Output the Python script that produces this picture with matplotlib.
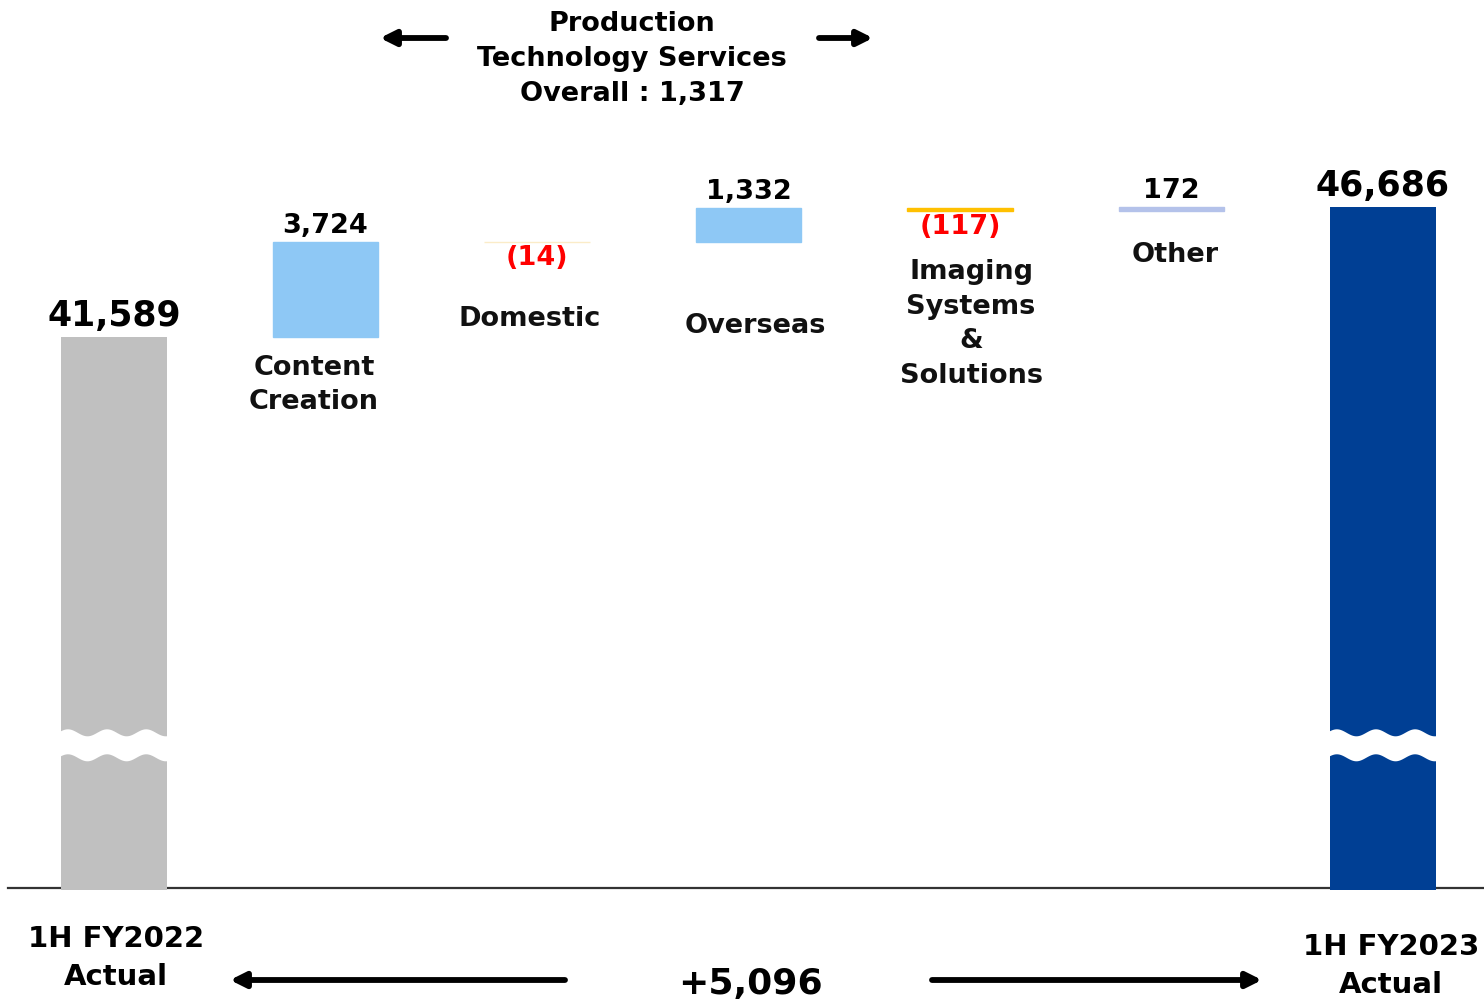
import numpy as np
import matplotlib
matplotlib.use("Agg")
import matplotlib.pyplot as plt

# ---- data ----
categories = ["1H FY2022\nActual", "Content\nCreation", "Domestic", "Overseas",
              "Imaging\nSystems\n&\nSolutions", "Other", "1H FY2023\nActual"]
start_value = 41589
end_value = 46686
deltas = [3724, -14, 1332, -117, 172]
delta_labels = ["3,724", "(14)", "1,332", "(117)", "172"]
total_labels = ["41,589", "46,686"]
total_change_label = "+5,096"
pts_label = "Production\nTechnology Services\nOverall : 1,317"

# ---- style ----
W, H = 1484, 1002
FLOOR = 20000            # truncated axis floor (broken axis)
total_colors = ["#C0C0C0", "#003F94"]
delta_colors = ["#8EC8F5", "#FBECC8", "#8EC8F5", "#FFC000", "#B4C2EA"]
plt.rcParams["font.family"] = ["DejaVu Sans"]
plt.rcParams["font.weight"] = "bold"

fig = plt.figure(figsize=(W / 100, H / 100), dpi=100)
ax = fig.add_axes([0, 0, 1, 1])
ax.set_xlim(-0.539, 6.478)
ax.set_ylim(15516, 54802)
ax.axis("off")

def fig_text(px, py, s, **kw):
    fig.text(px / W, 1 - py / H, s, ha="center", va="center", **kw)

# baseline
ax.axhline(FLOOR, xmin=8 / W, xmax=1, color="#333333", lw=1.6, zorder=1)

# totals
xs_tot = [0, 6]
vals_tot = [start_value, end_value]
ax.bar(xs_tot, [v - FLOOR + 100 for v in vals_tot], bottom=FLOOR - 100, width=0.5,
       color=total_colors, zorder=2)
for x, v, lab in zip(xs_tot, vals_tot, total_labels):
    ax.annotate(lab, xy=(x, v), xytext=(0, 21), textcoords="offset pixels",
                ha="center", va="center", fontsize=25, fontweight="bold")

# deltas
level = start_value
for i, (d, lab, col) in enumerate(zip(deltas, delta_labels, delta_colors), start=1):
    lo, hi = min(level, level + d), max(level, level + d)
    ax.bar(i, hi - lo, bottom=lo, width=0.5, color=col, edgecolor=col,
           linewidth=1.0, zorder=2)
    if d >= 0:
        ax.annotate(lab, xy=(i, hi), xytext=(0, 16), textcoords="offset pixels",
                    ha="center", va="center", fontsize=19.5, fontweight="bold")
    else:
        ax.annotate(lab, xy=(i, lo), xytext=(0, -16), textcoords="offset pixels",
                    ha="center", va="center", fontsize=19.5, fontweight="bold",
                    color="#FF0000")
    level += d

# wavy break bands on the total bars
WAVE_Y = 25600
half = 12.5 * 39.2
amp = 3.5 * 39.2
period = 0.185
for x in xs_tot:
    xx = np.linspace(x - 0.26, x + 0.26, 300)
    ph = np.cos(2 * np.pi * (xx - (x - 0.22)) / period)
    ax.fill_between(xx, WAVE_Y - half + amp * ph, WAVE_Y + half + amp * ph,
                    color="white", lw=0, zorder=3)

# category labels
lab_kw = dict(fontsize=19.5, fontweight="bold", color="#111111", linespacing=1.43)
fig_text(314, 385, categories[1], **lab_kw)
fig_text(530, 319, categories[2], **lab_kw)
fig_text(755, 326, categories[3], **lab_kw)
fig_text(971, 324, categories[4], **lab_kw)
fig_text(1175, 255, categories[5], **lab_kw)
fig_text(116, 958, categories[0], fontsize=21, fontweight="bold", linespacing=1.42)
fig_text(1391, 966, categories[6], fontsize=21, fontweight="bold", linespacing=1.42)

# segment header and total change
fig_text(632, 59, pts_label, fontsize=19.5, fontweight="bold", linespacing=1.43)
fig_text(750, 984, total_change_label, fontsize=26, fontweight="bold")

def arrow(x0, x1, py, lw=4.2):
    ax.annotate("", xy=(x1, H - py), xytext=(x0, H - py),
                xycoords="figure pixels", textcoords="figure pixels",
                arrowprops=dict(arrowstyle="-|>,head_length=0.9,head_width=0.45",
                                lw=lw, color="black", shrinkA=0, shrinkB=0))

arrow(446, 380, 38)
arrow(819, 873, 38)
arrow(565, 230, 980)
arrow(932, 1262, 980)

fig.savefig("out.png", dpi=100)
